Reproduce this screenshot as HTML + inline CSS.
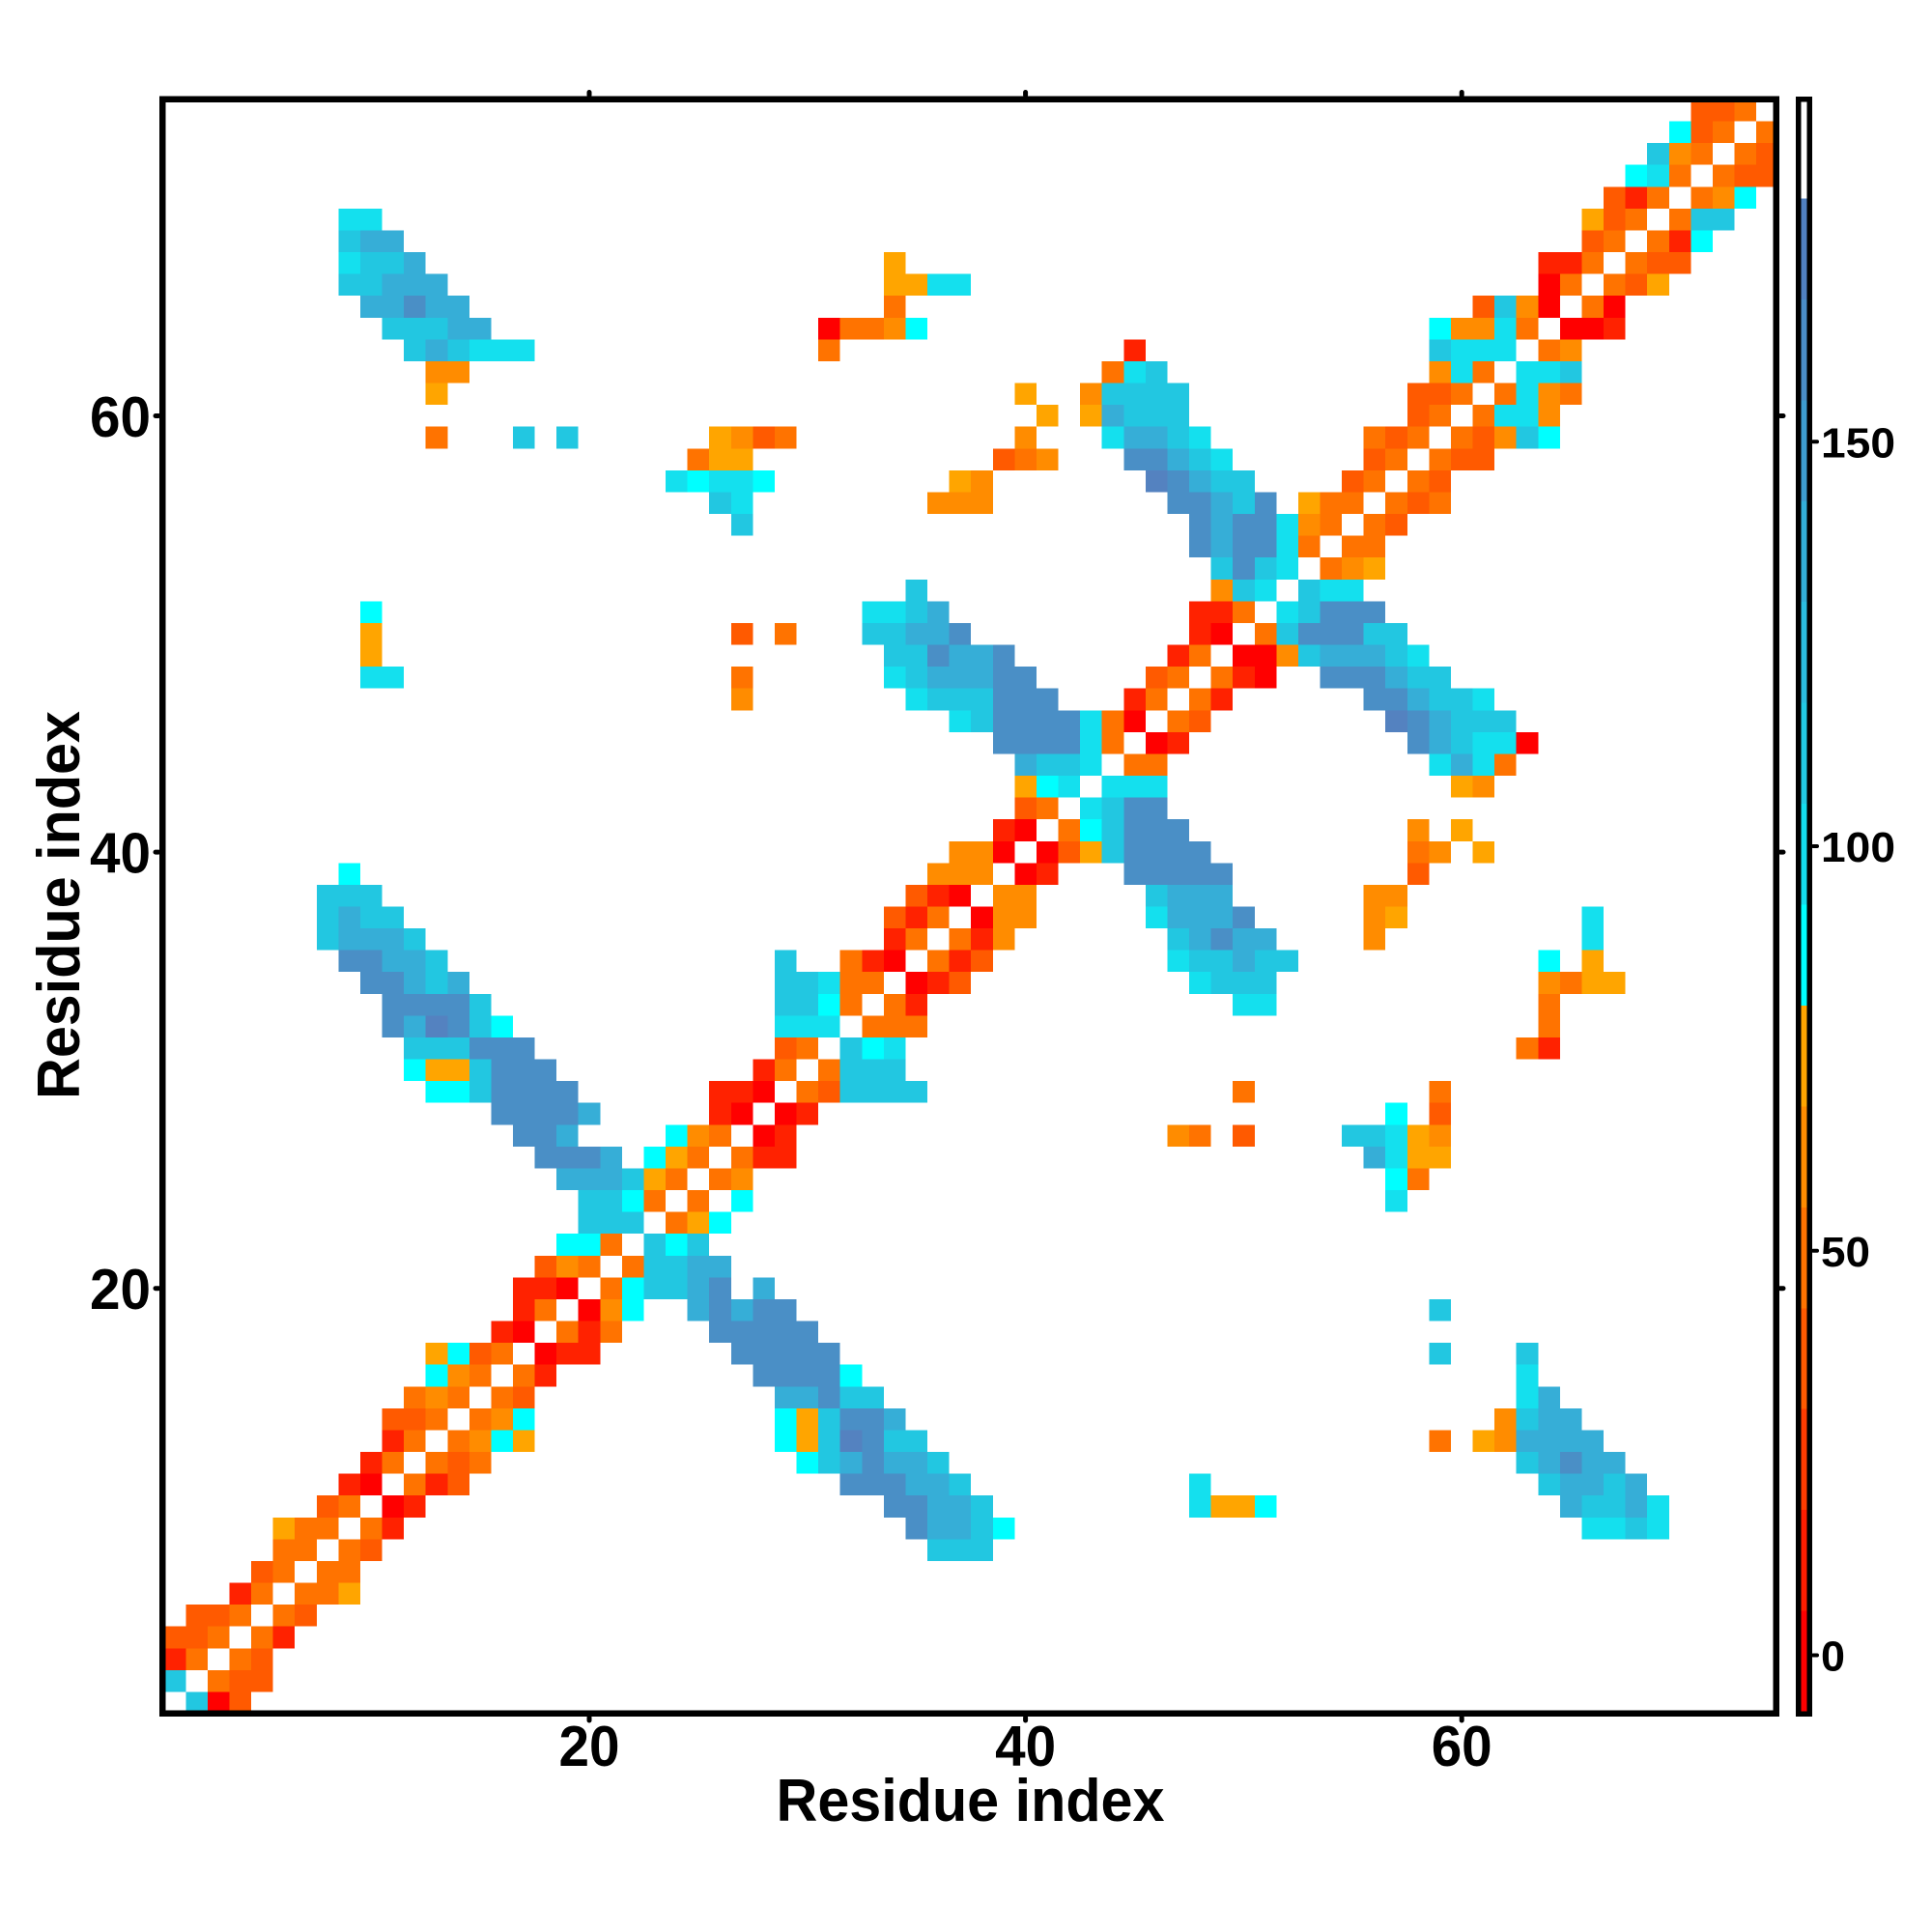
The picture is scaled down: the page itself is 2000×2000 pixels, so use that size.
<!DOCTYPE html>
<html>
<head>
<meta charset="utf-8">
<style>
html,body{margin:0;padding:0;background:#fff;width:2000px;height:2000px;overflow:hidden}
svg{display:block}
text{font-family:"Liberation Sans",Arial,sans-serif;font-weight:bold;fill:#000}
</style>
</head>
<body>
<svg width="2000" height="2000" viewBox="0 0 2000 2000">
<rect x="0" y="0" width="2000" height="2000" fill="#fff"/>
<svg x="169.7" y="103" width="1671" height="1671" viewBox="0 0 74 74" preserveAspectRatio="none" shape-rendering="crispEdges">
<path fill="#ff0000" d="M2 73h1v1h-1z M10 64h1v1h-1z M9 63h1v1h-1z M17 57h1v1h-1z M16 56h1v1h-1z M19 55h1v1h-1z M18 54h1v1h-1z M27 47h1v1h-1z M26 46h1v1h-1z M28 46h1v1h-1z M27 45h1v1h-1z M34 40h1v1h-1z M33 39h1v1h-1z M37 37h1v1h-1z M36 36h1v1h-1z M39 35h1v1h-1z M38 34h1v1h-1z M40 34h1v1h-1z M39 33h1v1h-1z M45 29h1v1h-1z M62 29h1v1h-1z M44 28h1v1h-1z M50 26h1v1h-1z M49 25h2v1h-2z M48 24h1v1h-1z M30 10h1v1h-1z M64 10h2v1h-2z M63 9h1v1h-1z M66 9h1v1h-1z M63 8h1v1h-1z"/>
<path fill="#ff2200" d="M0 71h1v1h-1z M5 70h1v1h-1z M3 68h1v1h-1z M10 65h1v1h-1z M11 64h1v1h-1z M8 63h1v1h-1z M12 63h1v1h-1z M9 62h1v1h-1z M10 61h1v1h-1z M17 58h1v1h-1z M18 57h2v1h-2z M15 56h1v1h-1z M19 56h1v1h-1z M16 55h1v1h-1z M16 54h2v1h-2z M27 48h2v1h-2z M28 47h1v1h-1z M25 46h1v1h-1z M29 46h1v1h-1z M25 45h2v1h-2z M27 44h1v1h-1z M63 43h1v1h-1z M34 41h1v1h-1z M35 40h1v1h-1z M32 39h1v1h-1z M36 39h1v1h-1z M33 38h1v1h-1z M37 38h1v1h-1z M34 37h1v1h-1z M35 36h1v1h-1z M40 35h1v1h-1z M38 33h1v1h-1z M46 29h1v1h-1z M44 27h1v1h-1z M48 27h1v1h-1z M49 26h1v1h-1z M46 25h1v1h-1z M47 24h1v1h-1z M47 23h2v1h-2z M44 11h1v1h-1z M66 10h1v1h-1z M63 7h2v1h-2z M69 6h1v1h-1z M67 4h1v1h-1z"/>
<path fill="#ff5a00" d="M3 73h1v1h-1z M3 72h2v1h-2z M4 71h1v1h-1z M0 70h2v1h-2z M1 69h2v1h-2z M6 69h1v1h-1z M4 67h1v1h-1z M9 66h1v1h-1z M7 64h1v1h-1z M13 63h1v1h-1z M13 62h1v1h-1z M10 60h2v1h-2z M16 59h1v1h-1z M14 57h1v1h-1z M17 53h1v1h-1z M49 47h1v1h-1z M58 46h1v1h-1z M30 45h1v1h-1z M28 43h1v1h-1z M36 40h1v1h-1z M37 39h1v1h-1z M33 37h1v1h-1z M34 36h1v1h-1z M57 35h1v1h-1z M41 34h1v1h-1z M39 32h1v1h-1z M47 28h1v1h-1z M45 26h1v1h-1z M26 24h1v1h-1z M56 19h1v1h-1z M57 18h1v1h-1z M54 17h1v1h-1z M58 17h1v1h-1z M38 16h1v1h-1z M55 16h1v1h-1z M59 16h2v1h-2z M27 15h1v1h-1z M56 15h1v1h-1z M60 15h1v1h-1z M57 14h1v1h-1z M57 13h2v1h-2z M60 9h1v1h-1z M67 8h1v1h-1z M68 7h2v1h-2z M65 6h1v1h-1z M66 5h1v1h-1z M66 4h1v1h-1z M72 3h2v1h-2z M73 2h1v1h-1z M70 1h1v1h-1z M70 0h2v1h-2z"/>
<path fill="#ff7300" d="M2 72h1v1h-1z M1 71h1v1h-1z M3 71h1v1h-1z M2 70h1v1h-1z M4 70h1v1h-1z M3 69h1v1h-1z M5 69h1v1h-1z M4 68h1v1h-1z M6 68h2v1h-2z M5 67h1v1h-1z M7 67h2v1h-2z M5 66h2v1h-2z M8 66h1v1h-1z M6 65h2v1h-2z M9 65h1v1h-1z M8 64h1v1h-1z M11 63h1v1h-1z M10 62h1v1h-1z M12 62h1v1h-1z M14 62h1v1h-1z M11 61h1v1h-1z M13 61h1v1h-1z M58 61h1v1h-1z M12 60h1v1h-1z M14 60h1v1h-1z M11 59h1v1h-1z M13 59h1v1h-1z M15 59h1v1h-1z M14 58h1v1h-1z M16 58h1v1h-1z M15 57h1v1h-1z M18 56h1v1h-1z M20 56h1v1h-1z M17 55h1v1h-1z M20 54h1v1h-1z M19 53h1v1h-1z M21 53h1v1h-1z M20 52h1v1h-1z M23 51h1v1h-1z M22 50h1v1h-1z M24 50h1v1h-1z M23 49h1v1h-1z M25 49h1v1h-1z M57 49h1v1h-1z M24 48h1v1h-1z M26 48h1v1h-1z M25 47h1v1h-1z M47 47h1v1h-1z M29 45h1v1h-1z M49 45h1v1h-1z M58 45h1v1h-1z M28 44h1v1h-1z M30 44h1v1h-1z M29 43h1v1h-1z M62 43h1v1h-1z M32 42h3v1h-3z M63 42h1v1h-1z M31 41h1v1h-1z M33 41h1v1h-1z M63 41h1v1h-1z M31 40h2v1h-2z M64 40h1v1h-1z M31 39h1v1h-1z M35 39h1v1h-1z M34 38h1v1h-1z M36 38h1v1h-1z M35 37h1v1h-1z M57 34h1v1h-1z M41 33h1v1h-1z M40 32h1v1h-1z M44 30h2v1h-2z M61 30h1v1h-1z M43 29h1v1h-1z M43 28h1v1h-1z M46 28h1v1h-1z M45 27h1v1h-1z M47 27h1v1h-1z M26 26h1v1h-1z M46 26h1v1h-1z M48 26h1v1h-1z M47 25h1v1h-1z M28 24h1v1h-1z M50 24h1v1h-1z M49 23h1v1h-1z M53 21h1v1h-1z M52 20h1v1h-1z M54 20h2v1h-2z M53 19h1v1h-1z M55 19h1v1h-1z M53 18h2v1h-2z M56 18h1v1h-1z M58 18h1v1h-1z M55 17h1v1h-1z M57 17h1v1h-1z M24 16h1v1h-1z M39 16h1v1h-1z M56 16h1v1h-1z M58 16h1v1h-1z M12 15h1v1h-1z M28 15h1v1h-1z M55 15h1v1h-1z M57 15h1v1h-1z M59 15h1v1h-1z M58 14h1v1h-1z M60 14h1v1h-1z M59 13h1v1h-1z M61 13h1v1h-1z M64 13h1v1h-1z M43 12h1v1h-1z M60 12h1v1h-1z M30 11h1v1h-1z M63 11h1v1h-1z M31 10h2v1h-2z M62 10h1v1h-1z M33 9h1v1h-1z M65 9h1v1h-1z M64 8h1v1h-1z M66 8h1v1h-1z M65 7h1v1h-1z M67 7h1v1h-1z M66 6h1v1h-1z M68 6h1v1h-1z M67 5h1v1h-1z M69 5h1v1h-1z M68 4h1v1h-1z M70 4h1v1h-1z M69 3h1v1h-1z M71 3h1v1h-1z M70 2h1v1h-1z M72 2h1v1h-1z M71 1h1v1h-1z M73 1h1v1h-1z M72 0h1v1h-1z"/>
<path fill="#ff8c00" d="M14 61h1v1h-1z M61 61h1v1h-1z M15 60h1v1h-1z M61 60h1v1h-1z M12 59h1v1h-1z M13 58h1v1h-1z M20 55h1v1h-1z M18 53h1v1h-1z M26 49h1v1h-1z M24 47h1v1h-1z M46 47h1v1h-1z M58 47h1v1h-1z M63 40h1v1h-1z M38 38h1v1h-1z M55 38h1v1h-1z M38 37h2v1h-2z M55 37h1v1h-1z M38 36h2v1h-2z M55 36h2v1h-2z M35 35h3v1h-3z M36 34h2v1h-2z M58 34h1v1h-1z M57 33h1v1h-1z M60 31h1v1h-1z M26 27h1v1h-1z M51 25h1v1h-1z M48 22h1v1h-1z M54 21h1v1h-1z M52 19h1v1h-1z M35 18h3v1h-3z M37 17h1v1h-1z M40 16h1v1h-1z M26 15h1v1h-1z M39 15h1v1h-1z M61 15h1v1h-1z M63 14h1v1h-1z M42 13h1v1h-1z M63 13h1v1h-1z M12 12h2v1h-2z M58 12h1v1h-1z M64 11h1v1h-1z M33 10h1v1h-1z M59 10h2v1h-2z M62 9h1v1h-1z M71 4h1v1h-1z M69 2h1v1h-1z"/>
<path fill="#ffa500" d="M8 68h1v1h-1z M5 65h1v1h-1z M48 64h2v1h-2z M16 61h1v1h-1z M29 61h1v1h-1z M60 61h1v1h-1z M29 60h1v1h-1z M12 57h1v1h-1z M24 51h1v1h-1z M22 49h1v1h-1z M23 48h1v1h-1z M57 48h2v1h-2z M57 47h1v1h-1z M12 44h2v1h-2z M65 40h2v1h-2z M65 39h1v1h-1z M56 37h1v1h-1z M42 34h1v1h-1z M60 34h1v1h-1z M59 33h1v1h-1z M39 31h1v1h-1z M59 31h1v1h-1z M9 25h1v1h-1z M9 24h1v1h-1z M55 21h1v1h-1z M52 18h1v1h-1z M36 17h1v1h-1z M25 16h2v1h-2z M25 15h1v1h-1z M40 14h1v1h-1z M42 14h1v1h-1z M12 13h1v1h-1z M39 13h1v1h-1z M33 8h2v1h-2z M68 8h1v1h-1z M33 7h1v1h-1z M65 5h1v1h-1z"/>
<path fill="#00ffff" d="M38 65h1v1h-1z M50 64h1v1h-1z M29 62h1v1h-1z M15 61h1v1h-1z M28 61h1v1h-1z M16 60h1v1h-1z M28 60h1v1h-1z M12 58h1v1h-1z M31 58h1v1h-1z M13 57h1v1h-1z M21 55h1v1h-1z M21 54h1v1h-1z M18 52h2v1h-2z M23 52h1v1h-1z M25 51h1v1h-1z M21 50h1v1h-1z M26 50h1v1h-1z M56 49h1v1h-1z M22 48h1v1h-1z M23 47h1v1h-1z M56 46h1v1h-1z M12 45h2v1h-2z M11 44h1v1h-1z M32 43h1v1h-1z M15 42h1v1h-1z M30 41h1v1h-1z M63 39h1v1h-1z M8 35h1v1h-1z M42 33h1v1h-1z M40 31h1v1h-1z M9 23h1v1h-1z M24 17h1v1h-1z M27 17h1v1h-1z M63 15h1v1h-1z M34 10h1v1h-1z M58 10h1v1h-1z M70 6h1v1h-1z M72 4h1v1h-1z M67 3h1v1h-1z M69 1h1v1h-1z"/>
<path fill="#14e0ee" d="M65 65h2v1h-2z M68 65h1v1h-1z M47 64h1v1h-1z M68 64h1v1h-1z M47 63h1v1h-1z M62 59h1v1h-1z M62 58h1v1h-1z M56 50h1v1h-1z M56 48h1v1h-1z M56 47h1v1h-1z M33 43h1v1h-1z M28 42h3v1h-3z M49 41h2v1h-2z M30 40h1v1h-1z M47 40h1v1h-1z M46 39h1v1h-1z M65 38h1v1h-1z M45 37h1v1h-1z M65 37h1v1h-1z M42 32h1v1h-1z M41 31h1v1h-1z M43 31h3v1h-3z M42 30h1v1h-1z M58 30h1v1h-1z M60 30h1v1h-1z M42 29h1v1h-1z M60 29h2v1h-2z M36 28h1v1h-1z M42 28h1v1h-1z M34 27h1v1h-1z M60 27h1v1h-1z M9 26h2v1h-2z M33 26h1v1h-1z M57 25h1v1h-1z M32 23h2v1h-2z M51 23h1v1h-1z M50 22h1v1h-1z M53 22h2v1h-2z M51 21h1v1h-1z M51 20h1v1h-1z M51 19h1v1h-1z M26 18h1v1h-1z M23 17h1v1h-1z M25 17h2v1h-2z M48 16h1v1h-1z M43 15h1v1h-1z M47 15h1v1h-1z M61 14h2v1h-2z M62 13h1v1h-1z M44 12h1v1h-1z M59 12h1v1h-1z M62 12h2v1h-2z M14 11h3v1h-3z M59 11h3v1h-3z M61 10h1v1h-1z M35 8h2v1h-2z M8 7h1v1h-1z M8 5h2v1h-2z M68 3h1v1h-1z"/>
<path fill="#22c7e1" d="M1 73h1v1h-1z M0 72h1v1h-1z M35 66h3v1h-3z M37 65h1v1h-1z M67 65h1v1h-1z M37 64h1v1h-1z M65 64h2v1h-2z M36 63h1v1h-1z M63 63h1v1h-1z M66 63h1v1h-1z M30 62h1v1h-1z M35 62h1v1h-1z M62 62h1v1h-1z M30 61h1v1h-1z M33 61h2v1h-2z M30 60h1v1h-1z M62 60h1v1h-1z M31 59h2v1h-2z M58 57h1v1h-1z M62 57h1v1h-1z M58 55h1v1h-1z M22 54h2v1h-2z M22 53h2v1h-2z M22 52h1v1h-1z M24 52h1v1h-1z M19 51h3v1h-3z M19 50h2v1h-2z M21 49h1v1h-1z M54 47h2v1h-2z M14 45h1v1h-1z M31 45h4v1h-4z M14 44h1v1h-1z M31 44h3v1h-3z M11 43h3v1h-3z M31 43h1v1h-1z M14 42h1v1h-1z M14 41h1v1h-1z M28 41h2v1h-2z M12 40h1v1h-1z M28 40h2v1h-2z M48 40h3v1h-3z M12 39h1v1h-1z M28 39h1v1h-1z M47 39h2v1h-2z M50 39h2v1h-2z M7 38h1v1h-1z M11 38h1v1h-1z M46 38h1v1h-1z M7 37h1v1h-1z M9 37h2v1h-2z M7 36h3v1h-3z M45 36h1v1h-1z M43 34h1v1h-1z M43 33h1v1h-1z M43 32h1v1h-1z M40 30h2v1h-2z M59 29h1v1h-1z M37 28h1v1h-1z M59 28h3v1h-3z M35 27h3v1h-3z M58 27h2v1h-2z M34 26h1v1h-1z M57 26h2v1h-2z M33 25h2v1h-2z M52 25h1v1h-1z M56 25h1v1h-1z M32 24h2v1h-2z M51 24h1v1h-1z M55 24h2v1h-2z M34 23h1v1h-1z M52 23h1v1h-1z M34 22h1v1h-1z M49 22h1v1h-1z M52 22h1v1h-1z M48 21h1v1h-1z M50 21h1v1h-1z M26 19h1v1h-1z M25 18h1v1h-1z M49 18h1v1h-1z M48 17h2v1h-2z M47 16h1v1h-1z M16 15h1v1h-1z M18 15h1v1h-1z M46 15h1v1h-1z M62 15h1v1h-1z M44 14h3v1h-3z M43 13h4v1h-4z M45 12h1v1h-1z M64 12h1v1h-1z M11 11h1v1h-1z M13 11h1v1h-1z M58 11h1v1h-1z M10 10h3v1h-3z M61 9h1v1h-1z M8 8h2v1h-2z M9 7h2v1h-2z M8 6h1v1h-1z M70 5h2v1h-2z M68 2h1v1h-1z"/>
<path fill="#36aed7" d="M35 65h2v1h-2z M35 64h2v1h-2z M64 64h1v1h-1z M67 64h1v1h-1z M34 63h2v1h-2z M64 63h2v1h-2z M67 63h1v1h-1z M31 62h1v1h-1z M33 62h2v1h-2z M63 62h1v1h-1z M65 62h2v1h-2z M62 61h4v1h-4z M33 60h1v1h-1z M63 60h2v1h-2z M28 59h2v1h-2z M63 59h1v1h-1z M24 55h1v1h-1z M26 55h1v1h-1z M24 54h1v1h-1z M27 54h1v1h-1z M24 53h2v1h-2z M18 49h3v1h-3z M20 48h1v1h-1z M55 48h1v1h-1z M18 47h1v1h-1z M19 46h1v1h-1z M11 42h1v1h-1z M11 40h1v1h-1z M13 40h1v1h-1z M10 39h2v1h-2z M49 39h1v1h-1z M8 38h3v1h-3z M47 38h1v1h-1z M49 38h2v1h-2z M8 37h1v1h-1z M46 37h3v1h-3z M46 36h3v1h-3z M39 30h1v1h-1z M59 30h1v1h-1z M58 29h1v1h-1z M58 28h1v1h-1z M57 27h1v1h-1z M35 26h3v1h-3z M56 26h1v1h-1z M36 25h2v1h-2z M53 25h3v1h-3z M34 24h2v1h-2z M35 23h1v1h-1z M48 20h1v1h-1z M48 19h1v1h-1z M48 18h1v1h-1z M47 17h1v1h-1z M46 16h1v1h-1z M44 15h2v1h-2z M43 14h1v1h-1z M12 11h1v1h-1z M13 10h2v1h-2z M9 9h2v1h-2z M12 9h2v1h-2z M10 8h3v1h-3z M11 7h1v1h-1z M9 6h2v1h-2z"/>
<path fill="#4a8fc6" d="M34 65h1v1h-1z M33 64h2v1h-2z M31 63h3v1h-3z M32 62h1v1h-1z M64 62h1v1h-1z M32 61h1v1h-1z M31 60h2v1h-2z M30 59h1v1h-1z M27 58h4v1h-4z M26 57h5v1h-5z M25 56h5v1h-5z M25 55h1v1h-1z M27 55h2v1h-2z M25 54h1v1h-1z M17 48h3v1h-3z M16 47h2v1h-2z M15 46h4v1h-4z M15 45h4v1h-4z M15 44h3v1h-3z M14 43h3v1h-3z M10 42h1v1h-1z M13 42h1v1h-1z M10 41h4v1h-4z M9 40h2v1h-2z M8 39h2v1h-2z M48 38h1v1h-1z M49 37h1v1h-1z M44 35h5v1h-5z M44 34h4v1h-4z M44 33h3v1h-3z M44 32h2v1h-2z M38 29h4v1h-4z M57 29h1v1h-1z M38 28h4v1h-4z M57 28h1v1h-1z M38 27h3v1h-3z M55 27h2v1h-2z M38 26h2v1h-2z M53 26h3v1h-3z M35 25h1v1h-1z M38 25h1v1h-1z M36 24h1v1h-1z M52 24h3v1h-3z M53 23h3v1h-3z M49 21h1v1h-1z M47 20h1v1h-1z M49 20h2v1h-2z M47 19h1v1h-1z M49 19h2v1h-2z M46 18h2v1h-2z M50 18h1v1h-1z M46 17h1v1h-1z M44 16h2v1h-2z M11 9h1v1h-1z"/>
<path fill="#5482c0" d="M31 61h1v1h-1z M12 42h1v1h-1z M56 28h1v1h-1z M45 17h1v1h-1z"/>
</svg>
<!-- plot frame -->
<rect x="168.25" y="102.75" width="1670.5" height="1671" fill="none" stroke="#000" stroke-width="6.5"/>
<!-- ticks -->
<g stroke="#000" stroke-width="5" stroke-linecap="round">
<line x1="610" y1="1778" x2="610" y2="1781"/>
<line x1="1061.6" y1="1778" x2="1061.6" y2="1781"/>
<line x1="1513.2" y1="1778" x2="1513.2" y2="1781"/>
<line x1="610" y1="98.5" x2="610" y2="95.5"/>
<line x1="1061.6" y1="98.5" x2="1061.6" y2="95.5"/>
<line x1="1513.2" y1="98.5" x2="1513.2" y2="95.5"/>
<line x1="164" y1="1333.7" x2="161" y2="1333.7"/>
<line x1="164" y1="882.1" x2="161" y2="882.1"/>
<line x1="164" y1="430.5" x2="161" y2="430.5"/>
<line x1="1843" y1="1333.7" x2="1846" y2="1333.7"/>
<line x1="1843" y1="882.1" x2="1846" y2="882.1"/>
<line x1="1843" y1="430.5" x2="1846" y2="430.5"/>
</g>
<!-- x tick labels -->
<g font-size="59" text-anchor="middle">
<text x="610" y="1828" textLength="63" lengthAdjust="spacingAndGlyphs">20</text>
<text x="1061.6" y="1828" textLength="63" lengthAdjust="spacingAndGlyphs">40</text>
<text x="1513.2" y="1828" textLength="63" lengthAdjust="spacingAndGlyphs">60</text>
</g>
<!-- y tick labels -->
<g font-size="59" text-anchor="end">
<text x="156" y="1355" textLength="63" lengthAdjust="spacingAndGlyphs">20</text>
<text x="156" y="903.5" textLength="63" lengthAdjust="spacingAndGlyphs">40</text>
<text x="156" y="452" textLength="63" lengthAdjust="spacingAndGlyphs">60</text>
</g>
<!-- axis titles -->
<text x="1004.5" y="1885" font-size="62" text-anchor="middle" textLength="402" lengthAdjust="spacingAndGlyphs">Residue index</text>
<text transform="translate(82,937) rotate(-90)" font-size="62" text-anchor="middle" textLength="402" lengthAdjust="spacingAndGlyphs">Residue index</text>
<!-- colorbar -->
<g shape-rendering="crispEdges">
<rect x="1862" y="101" width="11.5" height="104.4" fill="#ffffff"/>
<rect x="1862" y="205.4" width="11.5" height="104.5" fill="#5080c0"/>
<rect x="1862" y="309.9" width="11.5" height="104.4" fill="#4a8dc6"/>
<rect x="1862" y="414.3" width="11.5" height="104.5" fill="#3e9dcf"/>
<rect x="1862" y="518.8" width="11.5" height="104.4" fill="#33aed8"/>
<rect x="1862" y="623.2" width="11.5" height="104.4" fill="#2bbde0"/>
<rect x="1862" y="727.6" width="11.5" height="104.5" fill="#22cae4"/>
<rect x="1862" y="832.1" width="11.5" height="104.4" fill="#14ddee"/>
<rect x="1862" y="936.5" width="11.5" height="104.5" fill="#00ffff"/>
<rect x="1862" y="1041" width="11.5" height="104.4" fill="#ffa500"/>
<rect x="1862" y="1145.4" width="11.5" height="104.4" fill="#ff8c00"/>
<rect x="1862" y="1249.8" width="11.5" height="104.5" fill="#ff7300"/>
<rect x="1862" y="1354.3" width="11.5" height="104.4" fill="#ff5a00"/>
<rect x="1862" y="1458.7" width="11.5" height="104.5" fill="#ff3c00"/>
<rect x="1862" y="1563.2" width="11.5" height="104.4" fill="#ff1e00"/>
<rect x="1862" y="1667.6" width="11.5" height="106" fill="#ff0000"/>
</g>
<rect x="1861.75" y="102.75" width="11.5" height="1671.5" fill="none" stroke="#000" stroke-width="5.5"/>
<g stroke="#000" stroke-width="4" stroke-linecap="round">
<line x1="1877" y1="1713.5" x2="1881" y2="1713.5"/>
<line x1="1877" y1="1294.8" x2="1881" y2="1294.8"/>
<line x1="1877" y1="876" x2="1881" y2="876"/>
<line x1="1877" y1="457.3" x2="1881" y2="457.3"/>
</g>
<g font-size="44">
<text x="1885" y="1729.5" textLength="25" lengthAdjust="spacingAndGlyphs">0</text>
<text x="1885" y="1310.8" textLength="51" lengthAdjust="spacingAndGlyphs">50</text>
<text x="1885" y="892" textLength="77" lengthAdjust="spacingAndGlyphs">100</text>
<text x="1885" y="473.3" textLength="77" lengthAdjust="spacingAndGlyphs">150</text>
</g>
</svg>
</body>
</html>
